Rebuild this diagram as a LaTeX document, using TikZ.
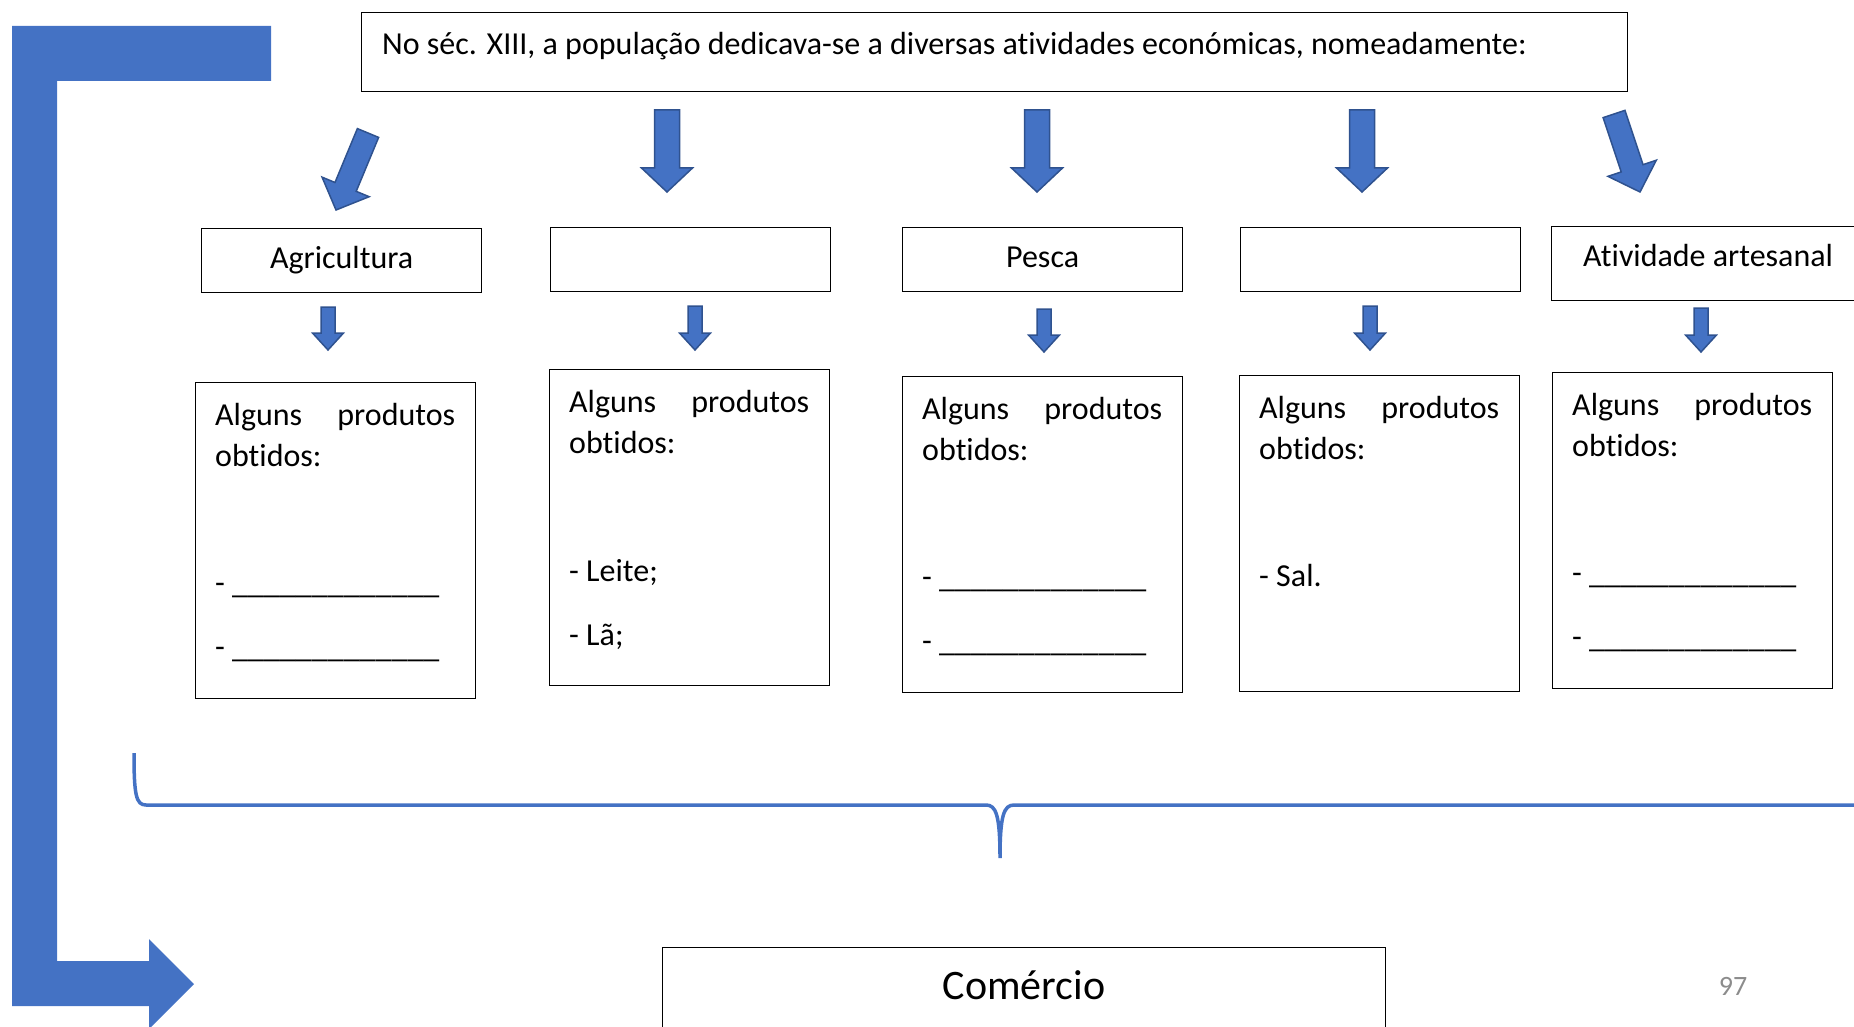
\documentclass[tikz,border=0pt]{standalone}
\usepackage{fontspec}
\setmainfont{Carlito}[Ligatures=NoCommon]
\usetikzlibrary{calc,positioning}
\definecolor{officeblue}{HTML}{4472C4}
\definecolor{officeedge}{HTML}{2F528F}
\definecolor{pagegray}{HTML}{8C8C8C}
% block arrow: from, to, half shaft, half head, head length
\newcommand{\fatarrow}[5]{%
  \path ($(#2)!#5!(#1)$) coordinate (hb);
  \filldraw[arrowbox] ($(#1)!#3!90:(#2)$) -- ($(hb)!#3!90:(#2)$) -- ($(hb)!#4!90:(#2)$) -- (#2)
    -- ($(hb)!#4!-90:(#2)$) -- ($(hb)!#3!-90:(#2)$) -- ($(#1)!#3!-90:(#2)$) -- cycle;}
\newcommand{\lacuna}{- \_\_\_\_\_\_\_\_\_\_\_\_\_}

\begin{document}
\begin{tikzpicture}[x=1pt, y=-1pt, font=\fontsize{32}{39}\selectfont,
	   box/.style={draw, line width=1.2pt, inner xsep=0pt, inner ysep=0pt, anchor=north west},
	   cat/.style={box, minimum width=280pt, text height=40pt, text depth=24pt},
	   prod/.style={box, minimum width=280pt, minimum height=316pt},
	   txt/.style={anchor=base west, inner sep=0pt},
	   arrowbox/.style={draw=officeedge, fill=officeblue, line width=1.5pt, line join=miter}]
	  \useasboundingbox (0,0) rectangle (1854,1027);
	  \clip (0,0) rectangle (1854,1027);
	  % big L arrow on the left
	  \fill[officeblue] (12,26) -- (271,26) -- (271,81) -- (57,81) -- (57,961) -- (149,961) -- (149,939)
	    -- (194,984) -- (149,1029) -- (149,1006) -- (12,1006) -- cycle;
	  \node[box, minimum width=1266pt, minimum height=79pt] (intro) at (361,12) {};
	  \node[txt] (introtxt) at ($(intro.north west)+(21,43)$)
	    {No séc. XIII, a população dedicava-se a diversas atividades económicas, nomeadamente:};
	  % activities
	  \node[cat] (agri) at (201,228) {Agricultura};
	  \node[cat] (cat2) at (550,227) {};
	  \node[cat] (pesca) at (902,227) {Pesca};
	  \node[cat] (cat4) at (1240,227) {};
	  \node[cat, minimum width=313pt, text depth=34pt] (arte) at (1551,226) {Atividade artesanal};
	  % products
	  \node[prod] (prod1) at (195,382) {};
	  \node[prod] (prod2) at (549,369) {};
	  \node[prod] (prod3) at (902,376) {};
	  \node[prod] (prod4) at (1239,375) {};
	  \node[prod] (prod5) at (1552,372) {};
	  \node[txt] (prod1a) at ($(prod1.north west)+(20,43)$) {\makebox[240pt][s]{Alguns produtos}};
	  \node[txt] (prod1b) at ($(prod1.north west)+(20,84)$) {obtidos:};
	  \node[txt] (prod1c) at ($(prod1.north west)+(20,211)$) {\lacuna};
	  \node[txt] (prod1d) at ($(prod1.north west)+(20,275)$) {\lacuna};
	  \node[txt] (prod2a) at ($(prod2.north west)+(20,43)$) {\makebox[240pt][s]{Alguns produtos}};
	  \node[txt] (prod2b) at ($(prod2.north west)+(20,84)$) {obtidos:};
	  \node[txt] (prod2c) at ($(prod2.north west)+(20,212)$) {- Leite;};
	  \node[txt] (prod2d) at ($(prod2.north west)+(20,276)$) {- Lã;};
	  \node[txt] (prod3a) at ($(prod3.north west)+(20,43)$) {\makebox[240pt][s]{Alguns produtos}};
	  \node[txt] (prod3b) at ($(prod3.north west)+(20,84)$) {obtidos:};
	  \node[txt] (prod3c) at ($(prod3.north west)+(20,211)$) {\lacuna};
	  \node[txt] (prod3d) at ($(prod3.north west)+(20,275)$) {\lacuna};
	  \node[txt] (prod4a) at ($(prod4.north west)+(20,43)$) {\makebox[240pt][s]{Alguns produtos}};
	  \node[txt] (prod4b) at ($(prod4.north west)+(20,84)$) {obtidos:};
	  \node[txt] (prod4c) at ($(prod4.north west)+(20,211)$) {- Sal.};
	  \node[txt] (prod5a) at ($(prod5.north west)+(20,43)$) {\makebox[240pt][s]{Alguns produtos}};
	  \node[txt] (prod5b) at ($(prod5.north west)+(20,84)$) {obtidos:};
	  \node[txt] (prod5c) at ($(prod5.north west)+(20,211)$) {\lacuna};
	  \node[txt] (prod5d) at ($(prod5.north west)+(20,275)$) {\lacuna};
	  % arrows
	  \coordinate (a1s) at (368,133); \coordinate (a1e) at (336,210);
	  \coordinate (a2s) at (667,110); \coordinate (a2e) at (667,192);
	  \coordinate (a3s) at (1037,110); \coordinate (a3e) at (1037,192);
	  \coordinate (a4s) at (1362,110); \coordinate (a4e) at (1362,192);
	  \coordinate (a5s) at (1614,114); \coordinate (a5e) at (1640,192);
	  \fatarrow{a1s}{a1e}{11.5pt}{25.5pt}{25pt}
	  \fatarrow{a2s}{a2e}{12.5pt}{25.5pt}{24pt}
	  \fatarrow{a3s}{a3e}{12.5pt}{25.5pt}{24pt}
	  \fatarrow{a4s}{a4e}{12.5pt}{25.5pt}{24pt}
	  \fatarrow{a5s}{a5e}{11.5pt}{25.5pt}{25pt}
	  \coordinate (s1s) at (328,307); \coordinate (s1e) at (328,350);
	  \coordinate (s2s) at (695,306); \coordinate (s2e) at (695,350);
	  \coordinate (s3s) at (1044,309); \coordinate (s3e) at (1044,352);
	  \coordinate (s4s) at (1370,306); \coordinate (s4e) at (1370,350);
	  \coordinate (s5s) at (1701,308); \coordinate (s5e) at (1701,352);
	  \fatarrow{s1s}{s1e}{7pt}{15.5pt}{17pt}
	  \fatarrow{s2s}{s2e}{7pt}{15.5pt}{17pt}
	  \fatarrow{s3s}{s3e}{7pt}{15.5pt}{17pt}
	  \fatarrow{s4s}{s4e}{7pt}{15.5pt}{17pt}
	  \fatarrow{s5s}{s5e}{7pt}{15.5pt}{17pt}
	  % brace
	  \draw[officeblue, line width=3.5pt] (134,753) .. controls (134,795) and (136,805) .. (146,805) -- (986,805)
	    .. controls (996,805) and (1000,815) .. (1000,858) .. controls (1000,815) and (1004,805) .. (1014,805) -- (1860,805);
	  \node[box, minimum width=723pt, text height=52pt, text depth=80pt, font=\fontsize{42}{50}\selectfont] (comercio) at (662,947) {Comércio};
	  \node[font=\fontsize{28}{30}\selectfont, text=pagegray] (page) at (1733,986) {97};
	\end{tikzpicture}
\end{document}
